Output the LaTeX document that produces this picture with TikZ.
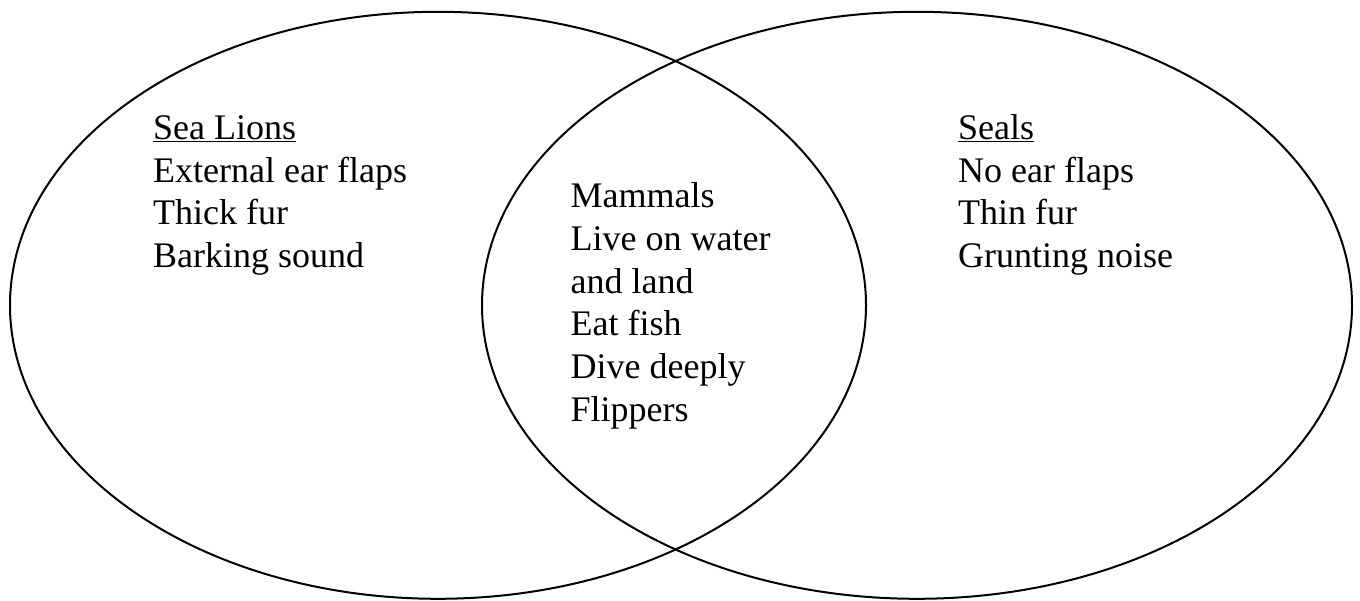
\documentclass[tikz,border=0pt]{standalone}
\usepackage{fontspec}
\setmainfont{Liberation Serif}
\usetikzlibrary{shapes.geometric}
\begin{document}
\begin{tikzpicture}[x=1pt,y=-1pt,
  venn/.style={ellipse,draw=black,line width=2pt,inner sep=0pt},
  lbl/.style={anchor=base west,inner sep=0pt,font=\fontsize{36}{42.8}\selectfont}]
\useasboundingbox (0,0) rectangle (1360,601);
\node[venn,minimum width=856pt,minimum height=587pt] (sealions) at (438,305.3) {};
\node[venn,minimum width=870pt,minimum height=587pt] (seals) at (917,305.3) {};
\node[lbl] (lefttext) at (153,139.3) {\begin{tabular}[t]{@{}l@{}}\underline{Sea Lions}\\External ear flaps\\Thick fur\\Barking sound\end{tabular}};
\node[lbl] (midtext) at (570.5,207.5) {\begin{tabular}[t]{@{}l@{}}Mammals\\Live on water\\and land\\Eat fish\\Dive deeply\\Flippers\end{tabular}};
\node[lbl] (righttext) at (958,139.3) {\begin{tabular}[t]{@{}l@{}}\underline{Seals}\\No ear flaps\\Thin fur\\Grunting noise\end{tabular}};
\end{tikzpicture}
\end{document}
